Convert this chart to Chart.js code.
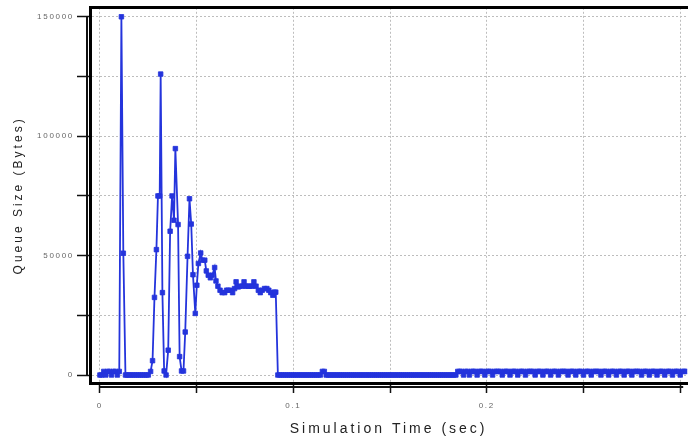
<!DOCTYPE html>
<html>
<head>
<meta charset="utf-8">
<script src="https://cdn.jsdelivr.net/npm/chart.js@4.4.1/dist/chart.umd.min.js"></script>
<style>
  html, body { margin: 0; padding: 0; background: #fff; }
  canvas { display: block; }
</style>
</head>
<body>
<canvas id="queue-chart" width="692" height="438"></canvas>
<script>
// queue size samples: time in sec, size in bytes
var startTimes = [0, 0.001, 0.002, 0.003, 0.004, 0.005, 0.006, 0.007, 0.008, 0.009,
    0.010, 0.0111, 0.0121, 0.0132,
    0.014, 0.015, 0.016, 0.017, 0.018, 0.019, 0.020, 0.021, 0.022, 0.023, 0.024, 0.025]
var startBytes = [0, 0, 1500, 0, 1500, 1500, 0, 1500, 1500, 0,
    1500, 150000, 51000, 0,
    0, 0, 0, 0, 0, 0, 0, 0, 0, 0, 0, 0]

var burstTimes = [
    0.0262, 0.0272, 0.0282, 0.0292, 0.0300, 0.0309, 0.0314, 0.0323, 0.0332, 0.0342,
    0.0353, 0.0363, 0.0373, 0.0383, 0.0390, 0.0404, 0.0412, 0.0422, 0.0432, 0.0441,
    0.0453, 0.0463, 0.0472, 0.0481, 0.0493, 0.0501, 0.0509, 0.0521, 0.0530, 0.0542,
    0.0550, 0.0560, 0.0571, 0.0581, 0.0593, 0.0600, 0.0610, 0.0621, 0.0632, 0.0645,
    0.0655, 0.0663, 0.0676, 0.0686, 0.0696, 0.0704, 0.0715, 0.0723, 0.0735, 0.0745,
    0.0755, 0.0766, 0.0774, 0.0786, 0.0796, 0.0807, 0.0819, 0.0829, 0.0839, 0.0851,
    0.0863, 0.0873, 0.0883, 0.0894, 0.0901, 0.0909, 0.0920]
var burstBytes = [
    1500, 6000, 32500, 52500, 75000, 75000, 126000, 34500, 1700, 0,
    10400, 60200, 75000, 64800, 94800, 63000, 7700, 1700, 1700, 18000,
    49700, 73800, 63200, 42000, 25800, 37600, 46700, 51100, 48100, 48100,
    43600, 41800, 40700, 41800, 45000, 39400, 37200, 35500, 34500, 34500,
    35500, 35500, 35500, 34500, 36200, 39000, 36900, 37200, 37200, 39000,
    37200, 37200, 37200, 37200, 39000, 37200, 35500, 34500, 35500, 36200,
    36200, 35500, 34500, 33400, 34700, 34700, 0]

var idleTimes = [
    0.093, 0.094, 0.095, 0.096, 0.097, 0.098, 0.099, 0.100,
    0.101, 0.102, 0.103, 0.104, 0.105, 0.106, 0.107, 0.108, 0.109, 0.110,
    0.111, 0.112, 0.113, 0.114, 0.115, 0.116, 0.117, 0.118, 0.119, 0.120,
    0.121, 0.122, 0.123, 0.124, 0.125, 0.126, 0.127, 0.128, 0.129, 0.130,
    0.131, 0.132, 0.133, 0.134, 0.135, 0.136, 0.137, 0.138, 0.139, 0.140,
    0.141, 0.142, 0.143, 0.144, 0.145, 0.146, 0.147, 0.148, 0.149, 0.150,
    0.151, 0.152, 0.153, 0.154, 0.155, 0.156, 0.157, 0.158, 0.159, 0.160,
    0.161, 0.162, 0.163, 0.164, 0.165, 0.166, 0.167, 0.168, 0.169, 0.170,
    0.171, 0.172, 0.173, 0.174, 0.175, 0.176, 0.177, 0.178, 0.179, 0.180,
    0.181, 0.182, 0.183, 0.184]
var idleBytes = [
    0, 0, 0, 0, 0, 0, 0, 0,
    0, 0, 0, 0, 0, 0, 0, 0, 0, 0,
    0, 0, 0, 0, 1500, 1500, 0, 0, 0, 0,
    0, 0, 0, 0, 0, 0, 0, 0, 0, 0,
    0, 0, 0, 0, 0, 0, 0, 0, 0, 0,
    0, 0, 0, 0, 0, 0, 0, 0, 0, 0,
    0, 0, 0, 0, 0, 0, 0, 0, 0, 0,
    0, 0, 0, 0, 0, 0, 0, 0, 0, 0,
    0, 0, 0, 0, 0, 0, 0, 0, 0, 0,
    0, 0, 0, 0]

var tailTimes = [
    0.185, 0.186, 0.187, 0.188, 0.189, 0.190,
    0.191, 0.192, 0.193, 0.194, 0.195, 0.196, 0.197, 0.198, 0.199, 0.200,
    0.201, 0.202, 0.203, 0.204, 0.205, 0.206, 0.207, 0.208, 0.209, 0.210,
    0.211, 0.212, 0.213, 0.214, 0.215, 0.216, 0.217, 0.218, 0.219, 0.220,
    0.221, 0.222, 0.223, 0.224, 0.225, 0.226, 0.227, 0.228, 0.229, 0.230,
    0.231, 0.232, 0.233, 0.234, 0.235, 0.236, 0.237, 0.238, 0.239, 0.240,
    0.241, 0.242, 0.243, 0.244, 0.245, 0.246, 0.247, 0.248, 0.249, 0.250,
    0.251, 0.252, 0.253, 0.254, 0.255, 0.256, 0.257, 0.258, 0.259, 0.260,
    0.261, 0.262, 0.263, 0.264, 0.265, 0.266, 0.267, 0.268, 0.269, 0.270,
    0.271, 0.272, 0.273, 0.274, 0.275, 0.276, 0.277, 0.278, 0.279, 0.280,
    0.281, 0.282, 0.283, 0.284, 0.285, 0.286, 0.287, 0.288, 0.289, 0.290,
    0.291, 0.292, 0.293, 0.294, 0.295, 0.296, 0.297, 0.298, 0.299, 0.300,
    0.301, 0.302, 0.303]
var tailBytes = [
    1500, 1500, 1500, 0, 1500, 1500,
    0, 1500, 1500, 1500, 0, 1500, 1500, 1500, 0, 1500,
    1500, 1500, 0, 1500, 1500, 1500, 1500, 0, 1500, 1500,
    1500, 0, 1500, 1500, 1500, 0, 1500, 1500, 1500, 0,
    1500, 1500, 1500, 1500, 0, 1500, 1500, 1500, 0, 1500,
    1500, 1500, 0, 1500, 1500, 1500, 0, 1500, 1500, 1500,
    1500, 0, 1500, 1500, 1500, 0, 1500, 1500, 1500, 0,
    1500, 1500, 1500, 0, 1500, 1500, 1500, 1500, 0, 1500,
    1500, 1500, 0, 1500, 1500, 1500, 0, 1500, 1500, 1500,
    0, 1500, 1500, 1500, 0, 1500, 1500, 1500, 1500, 0,
    1500, 1500, 1500, 0, 1500, 1500, 1500, 0, 1500, 1500,
    1500, 0, 1500, 1500, 1500, 0, 1500, 1500, 1500, 0,
    1500, 1500, 1500]

var xTickValues = [0, 0.1, 0.2]
var xTickLabels = ['0', '0.1', '0.2']
var yGridValues = [0, 25000, 50000, 75000, 100000, 125000, 150000]
var yTickValues = [0, 50000, 100000, 150000]
var yTickLabels = ['0', '50000', '100000', '150000']

var times = startTimes.concat(burstTimes, idleTimes, tailTimes)
var bytes = startBytes.concat(burstBytes, idleBytes, tailBytes)

var xMin = -0.00513, xMax = 0.3036
var yMin = -3343, yMax = 153760
var fontFamily = "'Liberation Sans', Arial, sans-serif"

function labelFor(value, values, labels) {
    for (var i = 0; i < values.length; i++) {
        if (Math.abs(values[i] - value) < 1e-9) return labels[i]
    }
    return ''
}

// titles are drawn before the datasets, tick labels (z: 1) after them
var letterSpacing = {
    id: 'letterSpacing',
    beforeDraw: function(chart) { chart.ctx.letterSpacing = '3px' },
    beforeDatasetsDraw: function(chart) { chart.ctx.letterSpacing = '1.7px' },
    afterDraw: function(chart) { chart.ctx.letterSpacing = '0px' }
}

// axis lines sitting just outside the plot frame
var detachedAxes = {
    id: 'detachedAxes',
    afterDraw: function(chart) {
        var ctx = chart.ctx, area = chart.chartArea
        var x = chart.scales.x, y = chart.scales.y
        ctx.save()
        ctx.strokeStyle = '#111'
        ctx.lineWidth = 2
        ctx.beginPath()
        ctx.moveTo(area.left - 3, y.getPixelForValue(yTickValues[0]))
        ctx.lineTo(area.left - 3, y.getPixelForValue(yTickValues[yTickValues.length - 1]))
        ctx.moveTo(x.getPixelForValue(xTickValues[0]), area.bottom + 4)
        ctx.lineTo(area.right - 4, area.bottom + 4)
        ctx.stroke()
        ctx.restore()
    }
}

var queueChartConfig = {
    type: 'line',
    data: {
        labels: times,
        datasets: [{
            data: bytes,
            xAxisID: 'x',
            yAxisID: 'y',
            borderColor: '#2434dc',
            backgroundColor: '#2434dc',
            borderWidth: 1.8,
            pointStyle: 'rect',
            pointRadius: 3.2,
            pointBorderWidth: 0.8,
            pointBorderColor: '#2434dc',
            pointBackgroundColor: '#2434dc',
            tension: 0,
            fill: false
        }]
    },
    options: {
        responsive: false,
        animation: false,
        layout: { padding: { top: 7, right: 0, bottom: 0, left: 0 } },
        plugins: { legend: { display: false }, tooltip: { enabled: false } },
        scales: {
            x: {
                type: 'linear',
                position: 'bottom',
                min: xMin,
                max: xMax,
                afterFit: function(scale) { scale.height = 55 },
                border: { display: true, width: 3, color: '#000', dash: [2, 2] },
                grid: { color: '#bdbdbd', lineWidth: 1, tickLength: 10, tickColor: '#111', tickWidth: 1.5 },
                ticks: {
                    stepSize: 0.05, includeBounds: false, autoSkip: false, maxRotation: 0,
                    padding: 8, z: 1, color: '#666', font: { family: fontFamily, size: 8 },
                    callback: function(v) { return labelFor(v, xTickValues, xTickLabels) }
                },
                title: {
                    display: true, text: 'Simulation Time (sec)', color: '#222',
                    font: { family: fontFamily, size: 14 }, padding: { top: 0, bottom: 0 }
                }
            },
            y: {
                type: 'linear',
                position: 'left',
                min: yMin,
                max: yMax,
                afterFit: function(scale) { scale.width = 90 },
                afterBuildTicks: function(scale) {
                    scale.ticks = yGridValues.map(function(v) { return { value: v } })
                },
                border: { display: true, width: 3, color: '#000', dash: [2, 2] },
                grid: { color: '#bdbdbd', lineWidth: 1, tickLength: 13, tickColor: '#111', tickWidth: 1.5 },
                ticks: {
                    autoSkip: false,
                    padding: 3, z: 1, color: '#666', font: { family: fontFamily, size: 8 },
                    callback: function(v) { return labelFor(v, yTickValues, yTickLabels) }
                },
                title: {
                    display: true, text: 'Queue Size (Bytes)', color: '#222',
                    font: { family: fontFamily, size: 12 }, padding: { top: 11, bottom: 0 }
                }
            },
            xTop: {
                type: 'linear',
                position: 'top',
                display: true,
                min: xMin,
                max: xMax,
                border: { display: true, width: 3, color: '#000' },
                grid: { display: false, drawTicks: false },
                ticks: { display: false }
            }
        }
    },
    plugins: [letterSpacing, detachedAxes]
}

var ctx = document.getElementById('queue-chart').getContext('2d')
var queuePlot = new Chart(ctx, queueChartConfig)
</script>
</body>
</html>
